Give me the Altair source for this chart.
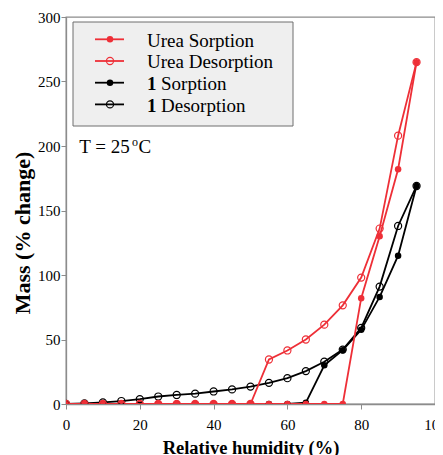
import altair as alt
import pandas as pd

# ---- data ----
rh = [0, 5, 10, 15, 20, 25, 30, 35, 40, 45, 50, 55, 60, 65, 70, 75, 80, 85, 90, 95]
urea_sorption = [0, 0, 0, 0, 0, 0, 0, 0, 0, 0, 0, 0, 0, 0, 0, 0, 82, 130, 182, 265]
urea_desorption = [0, 0, 0, 0, 0, 0, 0, 0, 0, 0, 0, 34.5, 41.5, 50, 61.5, 76.5, 98, 136, 208, 265]
one_sorption = [0, 0, 0, 0, 0, 0, 0, 0, 0, 0, 0, 0, 0, 1, 30, 41.7, 57.5, 83, 115, 169]
one_desorption = [0, 0.5, 1.2, 2.3, 3.8, 5.8, 7.0, 8.0, 9.7, 11.3, 13.5, 16.4, 20, 25.5, 32.8, 42.2, 59, 91, 138, 169]

series_names = ["1 Sorption", "1 Desorption", "Urea Sorption", "Urea Desorption"]
series_values = [one_sorption, one_desorption, urea_sorption, urea_desorption]
series_kind = ["sorption", "desorption", "sorption", "desorption"]

x_ticks = list(range(0, 101, 5))
y_ticks = list(range(0, 301, 25))

RED = "#ee2f37"
BLACK = "#000000"
FONT = "Liberation Serif"
GRAY = "#8c8c8c"

rows = []
for order, (name, vals, kind) in enumerate(zip(series_names, series_values, series_kind)):
    for x, v in zip(rh, vals):
        rows.append({"rh": x, "mass": v, "series": name, "kind": kind, "order": order})
df = pd.DataFrame(rows)

color_scale = alt.Scale(domain=series_names, range=[BLACK, BLACK, RED, RED])

common_axis = dict(
    grid=False,
    domainColor=GRAY,
    domainWidth=1.3,
    tickColor=GRAY,
    tickWidth=1,
    labelFont=FONT,
    labelFontSize=15,
    labelColor="black",
    titleFont=FONT,
    titleColor="black",
    titleFontWeight="bold",
    titleBaseline="alphabetic",
    labelFlush=False,
    labelOverlap=False,
)

x_enc = alt.X(
    "rh:Q",
    scale=alt.Scale(domain=[0, 100], nice=False),
    axis=alt.Axis(
        values=x_ticks,
        labelExpr="datum.value % 20 == 0 ? datum.label : ''",
        tickSize={"condition": {"test": "datum.value % 20 == 0", "value": 5}, "value": 3},
        title="Relative humidity (%)",
        titleFontSize=18.5,
        titleY=49,
        labelPadding=8,
        **common_axis,
    ),
)
y_enc = alt.Y(
    "mass:Q",
    scale=alt.Scale(domain=[0, 300], nice=False),
    axis=alt.Axis(
        values=y_ticks,
        labelExpr="datum.value % 50 == 0 ? datum.label : ''",
        tickSize={"condition": {"test": "datum.value % 50 == 0", "value": 5}, "value": 3},
        title="Mass (% change)",
        titleFontSize=22,
        titleAngle=270,
        titleAlign="center",
        titleX=-37,
        titleY=215.5,
        labelPadding=1,
        **common_axis,
    ),
)

base = alt.Chart(df)
lines = base.mark_line(strokeWidth=1.8, clip=True).encode(
    x=x_enc, y=y_enc,
    color=alt.Color("series:N", scale=color_scale, legend=None),
    detail="series:N",
    order=alt.Order("rh:Q"),
)
filled_pts = base.transform_filter("datum.kind == 'sorption'").mark_circle(
    size=42, opacity=1, clip=True
).encode(
    x="rh:Q", y="mass:Q",
    color=alt.Color("series:N", scale=color_scale, legend=None),
)
open_pts = base.transform_filter("datum.kind == 'desorption'").mark_point(
    size=50, strokeWidth=1.2, filled=False, opacity=1, clip=True
).encode(
    x="rh:Q", y="mass:Q",
    color=alt.Color("series:N", scale=color_scale, legend=None),
)

# ---- custom legend (inside plot, top-left) ----
one = pd.DataFrame({"k": [0]})
legend_layers = [
    alt.Chart(one).mark_rect(fill="#efefef", stroke="#6f6f6f", strokeWidth=1).encode(
        x=alt.value(7), x2=alt.value(227), y=alt.value(5), y2=alt.value(109)
    )
]
legend_rows = [
    ("Urea Sorption", RED, True, None),
    ("Urea Desorption", RED, False, None),
    ("Sorption", BLACK, True, "1"),
    ("Desorption", BLACK, False, "1"),
]
row_y = [22.3, 44, 65.7, 87.4]
for (label, col, filled, bold), yy in zip(legend_rows, row_y):
    legend_layers.append(
        alt.Chart(one).mark_rule(color=col, strokeWidth=1.8).encode(
            x=alt.value(29), x2=alt.value(58), y=alt.value(yy)
        )
    )
    if filled:
        legend_layers.append(
            alt.Chart(one).mark_circle(size=42, color=col, opacity=1).encode(
                x=alt.value(44), y=alt.value(yy)
            )
        )
    else:
        legend_layers.append(
            alt.Chart(one).mark_point(size=50, color=col, strokeWidth=1.2, filled=False, opacity=1).encode(
                x=alt.value(44), y=alt.value(yy)
            )
        )
    if bold:
        legend_layers.append(
            alt.Chart(one).mark_text(text=bold, align="left", baseline="alphabetic", font=FONT,
                                     fontSize=19, fontWeight="bold", color="black").encode(
                x=alt.value(81), y=alt.value(yy + 7.3)
            )
        )
        legend_layers.append(
            alt.Chart(one).mark_text(text=label, align="left", baseline="alphabetic", font=FONT,
                                     fontSize=19, color="black").encode(
                x=alt.value(95), y=alt.value(yy + 7.3)
            )
        )
    else:
        legend_layers.append(
            alt.Chart(one).mark_text(text=label, align="left", baseline="alphabetic", font=FONT,
                                     fontSize=19, color="black").encode(
                x=alt.value(81), y=alt.value(yy + 7.3)
            )
        )

# ---- temperature annotation ----
temp_layers = [
    alt.Chart(one).mark_text(text="T = 25", align="left", baseline="alphabetic", font=FONT,
                             fontSize=19, color="black").encode(x=alt.value(13.3), y=alt.value(135.7)),
    alt.Chart(one).mark_text(text="o", align="left", baseline="alphabetic", font=FONT,
                             fontSize=12, color="black").encode(x=alt.value(66), y=alt.value(128.5)),
    alt.Chart(one).mark_text(text="C", align="left", baseline="alphabetic", font=FONT,
                             fontSize=19, color="black").encode(x=alt.value(72.5), y=alt.value(135.7)),
]

chart = alt.layer(lines, filled_pts, open_pts, *legend_layers, *temp_layers).properties(
    width=369,
    height=387,
    autosize=alt.AutoSizeParams(type="none"),
    padding={"left": 58, "top": 9, "right": 0, "bottom": 51},
).configure(
    font=FONT
).configure_view(
    stroke=GRAY, strokeWidth=1.3
)

chart.save("out.html", embed_options={"renderer": "svg", "actions": False})
